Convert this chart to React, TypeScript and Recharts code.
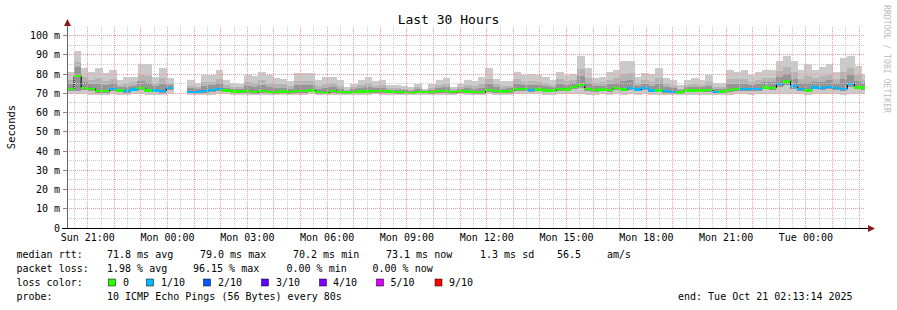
import React from 'react';
import { ComposedChart, Bar, Line, XAxis, YAxis, ReferenceLine } from 'recharts';

const FONT = "'DejaVu Sans Mono', 'Liberation Mono', monospace";
const BIN = 960; // seconds per consolidated bin
const SPAN = 108000; // 30 hours
const FIRST_TICK = 2806; // Sun 21:00 relative to 20:13:14
const FIRST_HALF = 1006; // Sun 20:30

const maxRtt = [
  81.0, 92.2, 83.1, 81.0, 83.1, 80.5, 82.0, 76.7, 78.7, 78.7,
  85.0, 85.0, 78.7, 83.1, 77.9, null, null, 76.7, 75.3, 79.6,
  79.6, 81.9, 76.7, 75.3, 75.0, 79.6, 79.0, 81.3, 79.6, 77.9,
  77.6, 76.2, 80.5, 80.5, 80.8, 76.7, 78.7, 78.4, 76.7, 73.2,
  75.0, 76.7, 78.7, 76.2, 77.0, 74.4, 74.4, 73.6, 73.2, 75.0,
  72.0, 75.0, 76.7, 77.9, 73.2, 75.0, 76.7, 76.2, 78.4, 83.1,
  77.6, 76.2, 76.2, 81.3, 79.3, 80.1, 79.3, 78.7, 76.7, 81.3,
  79.6, 80.1, 89.6, 83.1, 77.9, 78.7, 81.3, 81.9, 86.8, 86.8,
  78.4, 80.5, 79.8, 83.1, 77.9, 76.7, 74.1, 77.0, 77.9, 77.0,
  79.6, 75.3, 75.3, 82.3, 81.3, 81.9, 79.3, 81.0, 81.9, 82.3,
  86.8, 89.6, 86.8, 81.9, 85.0, 82.3, 83.6, 85.0, 81.3, 88.5,
  89.6, 84.3, 80.1,
];

const medianRtt = [
  72.2, 79.0, 72.8, 72.3, 71.3, 71.3, 72.3, 71.5, 71.2, 72.0,
  72.8, 71.5, 71.5, 71.3, 72.8, null, null, 70.8, 70.8, 71.2,
  71.8, 72.3, 71.4, 70.9, 70.9, 71.3, 70.6, 71.1, 70.8, 70.7,
  71.0, 70.6, 71.3, 71.3, 71.5, 70.6, 70.3, 71.2, 70.6, 70.4,
  70.8, 70.9, 70.9, 71.2, 71.2, 70.9, 70.6, 70.6, 70.2, 70.8,
  70.8, 70.6, 71.3, 71.3, 70.6, 71.2, 70.9, 70.6, 70.6, 71.6,
  71.1, 70.9, 71.2, 72.1, 72.1, 71.9, 72.0, 71.5, 71.5, 72.1,
  72.0, 73.2, 74.5, 72.1, 71.8, 72.0, 71.9, 72.8, 72.0, 72.6,
  72.0, 72.6, 71.5, 71.5, 71.2, 70.8, 70.5, 71.5, 71.5, 71.5,
  71.6, 70.8, 71.0, 71.6, 72.1, 72.1, 72.1, 72.1, 73.1, 72.8,
  74.7, 76.1, 73.8, 72.3, 71.5, 73.1, 72.9, 73.2, 72.6, 72.3,
  74.9, 73.1, 73.1,
];

const darkTop = [
  74.8, 83.6, 75.9, 74.9, 74.8, 74.1, 75.2, 73.1, 73.5, 74.0,
  76.5, 75.6, 73.7, 74.8, 74.3, null, null, 72.6, 72.2, 73.7,
  74.1, 75.2, 73.0, 72.2, 72.1, 73.8, 73.1, 74.2, 73.4, 72.9,
  73.0, 72.3, 74.1, 74.1, 74.3, 72.4, 72.8, 73.4, 72.4, 71.2,
  72.1, 72.6, 73.2, 72.7, 72.9, 71.9, 71.7, 71.5, 71.2, 72.1,
  71.2, 71.9, 72.9, 73.3, 71.4, 72.3, 72.6, 72.3, 72.9, 75.0,
  73.1, 72.5, 72.7, 74.9, 74.3, 74.4, 74.2, 73.7, 73.1, 74.9,
  74.3, 75.3, 79.0, 75.4, 73.6, 74.0, 74.7, 75.5, 76.4, 76.9,
  73.9, 75.0, 74.0, 75.0, 73.2, 72.6, 71.6, 73.2, 73.4, 73.2,
  74.0, 72.2, 72.3, 74.8, 74.9, 75.0, 74.3, 74.8, 75.7, 75.7,
  78.3, 80.2, 77.7, 75.2, 75.6, 75.9, 76.1, 76.7, 75.2, 77.2,
  79.3, 76.5, 75.2,
];

const midTop = [
  77.0, 86.5, 78.5, 77.1, 77.8, 76.4, 77.6, 74.4, 75.3, 75.7,
  79.5, 78.9, 75.5, 77.8, 75.6, null, null, 74.0, 73.3, 75.8,
  76.1, 77.6, 74.3, 73.3, 73.2, 75.9, 75.2, 76.7, 75.6, 74.7,
  74.6, 73.7, 76.4, 76.4, 76.6, 74.0, 74.9, 75.2, 74.0, 71.9,
  73.1, 74.1, 75.2, 74.0, 74.4, 72.8, 72.7, 72.3, 71.9, 73.1,
  71.5, 73.0, 74.3, 74.9, 72.0, 73.3, 74.1, 73.7, 74.9, 77.5,
  74.7, 73.8, 74.0, 77.2, 76.1, 76.4, 76.0, 75.5, 74.4, 77.2,
  76.2, 77.0, 82.8, 78.2, 75.2, 75.7, 77.1, 77.8, 80.1, 80.4,
  75.5, 76.9, 76.1, 77.9, 74.9, 74.0, 72.5, 74.5, 75.0, 74.5,
  76.0, 73.3, 73.4, 77.5, 77.2, 77.5, 76.1, 77.0, 77.9, 78.0,
  81.4, 83.5, 81.0, 77.6, 78.9, 78.2, 78.8, 79.7, 77.4, 81.2,
  83.0, 79.3, 76.8,
];

const innerLow = [
  71.2, 71.0, 71.6, 71.2, 70.4, 70.4, 71.2, 70.5, 70.3, 71.0,
  71.6, 70.5, 70.5, 70.4, 71.6, null, null, 70.0, 70.0, 70.3,
  70.8, 71.2, 70.5, 70.0, 70.0, 70.4, 69.9, 70.2, 70.0, 69.9,
  70.1, 69.9, 70.4, 70.4, 70.5, 69.9, 69.7, 70.3, 69.9, 69.8,
  70.0, 70.1, 70.1, 70.3, 70.3, 70.1, 69.9, 69.9, 69.7, 70.0,
  70.0, 69.9, 70.4, 70.4, 69.9, 70.3, 70.1, 69.9, 69.9, 70.6,
  70.2, 70.1, 70.3, 71.0, 71.0, 70.9, 71.0, 70.5, 70.5, 71.0,
  71.0, 72.0, 72.8, 71.0, 70.8, 71.0, 70.9, 71.6, 71.0, 71.5,
  71.0, 71.5, 70.5, 70.5, 70.3, 70.0, 69.8, 70.5, 70.5, 70.5,
  70.6, 70.0, 70.2, 70.6, 71.1, 71.1, 71.1, 71.1, 72.0, 71.7,
  73.2, 74.3, 72.5, 71.3, 70.5, 72.0, 71.8, 72.0, 71.5, 71.2,
  73.3, 72.0, 71.7,
];

const minRtt = [
  69.4, 69.8, 69.6, 69.3, 68.9, 69.1, 69.5, 69.3, 69.3, 69.5,
  69.6, 69.2, 69.3, 69.2, 69.6, null, null, 69.1, 69.3, 69.0,
  69.3, 69.4, 69.4, 69.1, 69.2, 69.0, 68.9, 69.2, 69.3, 69.0,
  69.2, 69.1, 69.3, 69.3, 69.4, 69.2, 68.9, 69.3, 69.1, 69.2,
  69.2, 69.3, 69.2, 69.4, 69.3, 69.3, 69.1, 69.2, 69.0, 69.2,
  69.3, 69.1, 69.3, 69.2, 69.1, 69.4, 69.2, 69.0, 69.1, 69.4,
  69.2, 69.2, 69.3, 69.4, 69.5, 69.4, 69.5, 69.2, 69.2, 69.4,
  69.4, 69.6, 69.5, 69.3, 69.3, 69.4, 69.3, 69.5, 69.2, 69.4,
  69.3, 69.5, 69.1, 69.2, 69.0, 69.1, 69.0, 69.2, 69.2, 69.3,
  69.3, 69.1, 69.2, 69.3, 69.4, 69.4, 69.3, 69.4, 69.5, 69.5,
  69.6, 69.7, 69.5, 69.4, 69.2, 69.5, 69.4, 69.5, 69.4, 69.3,
  69.6, 69.5, 69.4,
];

const lossTenths = [
  0, 0, 0, 0, 0, 0, 1, 0, 1, 1,
  0, 0, 1, 1, 1, null, null, 1, 1, 1,
  1, 1, 0, 0, 0, 0, 0, 0, 0, 0,
  0, 0, 0, 0, 0, 0, 0, 0, 0, 0,
  0, 0, 0, 0, 0, 0, 0, 0, 0, 0,
  0, 0, 0, 0, 0, 0, 0, 0, 0, 0,
  0, 0, 0, 0, 0, 1, 0, 0, 0, 0,
  0, 0, 0, 0, 0, 0, 0, 0, 0, 1,
  1, 1, 1, 0, 1, 1, 0, 0, 0, 0,
  0, 1, 0, 0, 0, 1, 1, 1, 0, 0,
  1, 0, 1, 1, 0, 1, 1, 1, 1, 1,
  1, 0, 0,
];

const timeTickLabels = [
  'Sun 21:00', 'Mon 00:00', 'Mon 03:00', 'Mon 06:00', 'Mon 09:00',
  'Mon 12:00', 'Mon 15:00', 'Mon 18:00', 'Mon 21:00', 'Tue 00:00',
];
const yTickValues = [0, 10, 20, 30, 40, 50, 60, 70, 80, 90, 100];
const yMinorValues = [5, 15, 25, 35, 45, 55, 65, 75, 85, 95];

const lossLegend = [
  { label: '0', color: '#26ff00' },
  { label: '1/10', color: '#00b8ff' },
  { label: '2/10', color: '#0059ff' },
  { label: '3/10', color: '#5e00ff' },
  { label: '4/10', color: '#7e00ff' },
  { label: '5/10', color: '#dd00ff' },
  { label: '9/10', color: '#ff0000' },
];
const lossColorFor = (loss: number) => {
  if (loss <= 0) return lossLegend[0].color;
  if (loss === 1) return lossLegend[1].color;
  if (loss === 2) return lossLegend[2].color;
  if (loss === 3) return lossLegend[3].color;
  if (loss === 4) return lossLegend[4].color;
  if (loss <= 8) return lossLegend[5].color;
  return lossLegend[6].color;
};

const rows = maxRtt.map((mx, i) => {
  const t = i * BIN + BIN / 2;
  const md = medianRtt[i];
  if (mx == null || md == null) {
    return { t, light: null, mid: null, dark: null, med: null, box: null, loss: null };
  }
  return {
    t,
    light: [minRtt[i], mx],
    mid: [innerLow[i], midTop[i]],
    dark: [innerLow[i], darkTop[i]],
    med: md,
    box: [md - 0.6, md + 0.6],
    loss: lossTenths[i],
  };
});

const timeTicks = timeTickLabels.map((_, k) => FIRST_TICK + k * 10800);
const halfHourLines: number[] = [];
for (let v = FIRST_HALF; v < SPAN; v += 1800) halfHourLines.push(v);
const hourLines = halfHourLines.filter((_, k) => k % 2 === 1);
const minorTimeLines = halfHourLines.filter((_, k) => k % 2 === 0);

const fmtTime = (v: number) => {
  const k = timeTicks.indexOf(v);
  return k >= 0 ? timeTickLabels[k] : '';
};
const fmtY = (v: number) => (v === 0 ? '0' : `${v} m`);

const seamless = (fill: string) => (p: any) => {
  if (p == null || p.height == null || isNaN(p.height) || isNaN(p.y)) return <g />;
  const y = Math.min(p.y, p.y + p.height);
  const h = Math.abs(p.height);
  return <rect x={p.x - 0.3} y={y} width={p.width + 0.6} height={h} fill={fill} shapeRendering="crispEdges" />;
};
const medianBox = (p: any) => {
  if (p == null || p.payload == null || p.payload.loss == null || isNaN(p.y)) return <g />;
  const y = Math.min(p.y, p.y + p.height);
  const h = Math.abs(p.height);
  return (
    <rect
      x={p.x - 0.3}
      y={y}
      width={p.width + 0.6}
      height={h}
      fill={lossColorFor(p.payload.loss)}
      shapeRendering="crispEdges"
    />
  );
};

const MINOR = '#cbcbcb';
const MAJOR = '#f49a9a';

const legendRow1 = [
  { x: 16.5, s: 'median rtt:' },
  { x: 107, s: '71.8 ms avg' },
  { x: 200, s: '79.0 ms max' },
  { x: 293, s: '70.2 ms min' },
  { x: 386, s: '73.1 ms now' },
  { x: 480, s: '1.3 ms sd' },
  { x: 557, s: '56.5' },
  { x: 607, s: 'am/s' },
];
const legendRow2 = [
  { x: 16.5, s: 'packet loss:' },
  { x: 107, s: '1.98 % avg' },
  { x: 193, s: '96.15 % max' },
  { x: 286.5, s: '0.00 % min' },
  { x: 372.5, s: '0.00 % now' },
];
const legendBoxX = [108.5, 146.5, 203.5, 261.5, 319.5, 376.5, 435];
const legendLabelX = [123, 161, 218, 276, 333, 390.5, 449];

const crispCss = `
.recharts-reference-line line, .recharts-reference-line-line { shape-rendering: crispEdges; }
.recharts-cartesian-axis-tick-line { shape-rendering: crispEdges; }
`;

export default function App() {
  return (
    <div style={{ position: 'absolute', left: 0, top: 0, width: 897, height: 310, background: '#fff' }}>
      <style>{crispCss}</style>
      <ComposedChart
        width={897}
        height={310}
        data={rows}
        margin={{ top: 26, right: 32, left: 0, bottom: 0 }}
        barGap="-100%"
        barCategoryGap={0}
      >
        <XAxis
          dataKey="t"
          type="number"
          domain={[0, SPAN]}
          allowDataOverflow
          ticks={timeTicks}
          interval={0}
          tickFormatter={fmtTime}
          height={82}
          axisLine={false}
          tickLine={false}
          tickSize={3}
          tickMargin={3}
          tick={{ fontFamily: FONT, fontSize: 10, fill: '#000' }}
        />
        <YAxis
          type="number"
          domain={[0, 105]}
          allowDataOverflow
          ticks={yTickValues}
          interval={0}
          tickFormatter={fmtY}
          width={67}
          axisLine={false}
          tickLine={{ stroke: '#888' }}
          tickSize={4}
          tickMargin={3}
          tick={{ fontFamily: FONT, fontSize: 10, fill: '#000' }}
        />
        <Bar dataKey="light" isAnimationActive={false} shape={seamless('#cacaca')} zIndex={100} />
        <Bar dataKey="mid" isAnimationActive={false} shape={seamless('#b4b4b4')} zIndex={101} />
        <Bar dataKey="dark" isAnimationActive={false} shape={seamless('#959595')} zIndex={102} />
        <Line
          dataKey="med"
          type="step"
          stroke="#000"
          strokeWidth={1}
          dot={false}
          activeDot={false}
          connectNulls={false}
          isAnimationActive={false}
          zIndex={103}
        />
        <Bar dataKey="box" isAnimationActive={false} shape={medianBox} zIndex={104} />
        {minorTimeLines.map((v) => (
          <ReferenceLine key={`mt${v}`} x={v} stroke={MINOR} strokeDasharray="1 1" shapeRendering="crispEdges" zIndex={105} />
        ))}
        {yMinorValues.map((v) => (
          <ReferenceLine key={`my${v}`} y={v} stroke={MINOR} strokeDasharray="1 1" shapeRendering="crispEdges" zIndex={105} />
        ))}
        {hourLines.map((v) => (
          <ReferenceLine key={`ht${v}`} x={v} stroke={MAJOR} strokeDasharray="1 1" shapeRendering="crispEdges" zIndex={106} />
        ))}
        {yTickValues.filter((v) => v > 0).map((v) => (
          <ReferenceLine key={`hy${v}`} y={v} stroke={MAJOR} strokeDasharray="1 1" shapeRendering="crispEdges" zIndex={106} />
        ))}
      </ComposedChart>
      <svg
        width={897}
        height={310}
        style={{ position: 'absolute', left: 0, top: 0, pointerEvents: 'none' }}
        fontFamily={FONT}
      >
        <text x={448.5} y={24} textAnchor="middle" fontSize={13} fill="#000">Last 30 Hours</text>
        <text transform="translate(15,127) rotate(-90)" textAnchor="middle" fontSize={10.5} fill="#000">Seconds</text>
        <text transform="translate(884,5) rotate(90)" fontSize={8.2} fill="#bbbbbb" textLength={108} lengthAdjust="spacingAndGlyphs">RRDTOOL / TOBI OETIKER</text>
        <line x1={67.5} y1={228} x2={67.5} y2={22} stroke="#666" strokeWidth={1} />
        <line x1={62} y1={228.5} x2={869} y2={228.5} stroke="#000" strokeWidth={1} />
        <polygon points="67.5,19 64,26 71,26" fill="#8b1a1a" />
        <polygon points="875,228.5 868,225 868,232" fill="#8b1a1a" />
        <g fontSize={10} fill="#000" style={{ whiteSpace: 'pre' }}>
          {legendRow1.map((d) => (
            <text key={`r1${d.x}`} x={d.x} y={258.3}>{d.s}</text>
          ))}
          {legendRow2.map((d) => (
            <text key={`r2${d.x}`} x={d.x} y={272.3}>{d.s}</text>
          ))}
          <text x={16.5} y={286.3}>loss color:</text>
          {lossLegend.map((d, k) => (
            <g key={`lg${k}`}>
              <rect x={legendBoxX[k]} y={279} width={7} height={7} fill={d.color} stroke="#000" strokeWidth={0.5} />
              <text x={legendLabelX[k]} y={286.3}>{d.label}</text>
            </g>
          ))}
          <text x={16.5} y={300.3}>probe:</text>
          <text x={107} y={300.3}>10 ICMP Echo Pings (56 Bytes) every 80s</text>
          <text x={678} y={300.3}>end: Tue Oct 21 02:13:14 2025</text>
        </g>
      </svg>
    </div>
  );
}
